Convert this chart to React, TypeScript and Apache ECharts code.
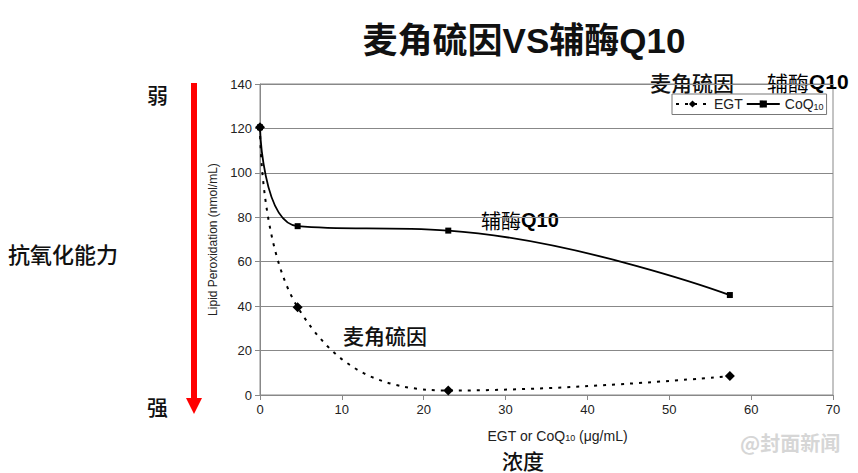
import React, { useEffect, useRef } from "react";
import * as echarts from "echarts";

const egtData: [number, number][] = [
  [0, 120.5],
  [4.6, 39.5],
  [23, 2],
  [57.4, 8.5],
];
const coqData: [number, number][] = [
  [0, 120.5],
  [4.6, 76],
  [23, 74],
  [57.4, 45],
];
const seriesNames = ["EGT", "CoQ10"];
const titleText = "麦角硫因VS辅酶Q10";
const xAxisName = "EGT or CoQ{s|10} (μg/mL)";
const yAxisName = "Lipid Peroxidation (nmol/mL)";

const latin = "Liberation Sans, Arial, sans-serif";
const cjk = "Noto Sans CJK SC, sans-serif";
const mixed = "Liberation Sans, Noto Sans CJK SC, sans-serif";

const richLabel = (size: number) => ({
  c: { fontFamily: cjk, fontSize: size, fontWeight: "normal", color: "#111" },
  q: { fontFamily: latin, fontSize: size, fontWeight: "bold", color: "#111" },
});

export default function App() {
  const ref = useRef<HTMLDivElement>(null);
  useEffect(() => {
    document.body.style.margin = "0";
    const chart = echarts.init(ref.current!, null, { renderer: "svg" });
    chart.setOption({
      animation: false,
      backgroundColor: "#fff",
      title: {
        text: titleText,
        left: 519,
        top: 18,
        textAlign: "center",
        textStyle: { fontFamily: mixed, fontSize: 35, fontWeight: "bold", color: "#111" },
      },
      grid: {
        left: 260,
        right: 25,
        top: 84,
        bottom: 78,
        show: true,
        borderColor: "#888",
        borderWidth: 1,
      },
      legend: {
        data: seriesNames,
        left: 672,
        top: 94,
        orient: "horizontal",
        borderColor: "#777",
        borderWidth: 1,
        padding: [3, 3, 3, 3],
        itemGap: 3,
        itemWidth: 33,
        itemHeight: 9,
        backgroundColor: "#fff",
        formatter: (n: string) => (n === "CoQ10" ? "{n|CoQ}{s|10}" : "{n|" + n + "}"),
        textStyle: {
          fontFamily: latin,
          fontSize: 14,
          color: "#222",
          rich: {
            n: { fontSize: 14, fontFamily: latin, color: "#222" },
            s: { fontSize: 9, fontFamily: latin, color: "#222", padding: [6, 0, 0, 0] },
          },
        },
      },
      xAxis: {
        type: "value",
        min: 0,
        max: 70,
        interval: 10,
        name: xAxisName,
        nameLocation: "middle",
        nameGap: 34,
        nameTextStyle: {
          fontFamily: latin,
          fontSize: 14,
          lineHeight: 14,
          color: "#222",
          padding: [0, 0, 0, 22],
          rich: { s: { fontSize: 9, lineHeight: 14, fontFamily: latin, color: "#222", padding: [4, 0, 0, 0] } },
        },
        axisLine: { show: true, lineStyle: { color: "#888", width: 1 } },
        axisTick: { show: true, length: 5, lineStyle: { color: "#888" } },
        axisLabel: { fontFamily: latin, fontSize: 13, color: "#222", margin: 8 },
        splitLine: { show: false },
      },
      yAxis: {
        type: "value",
        min: 0,
        max: 140,
        interval: 20,
        name: yAxisName,
        nameLocation: "middle",
        nameGap: 40,
        nameTextStyle: { fontFamily: latin, fontSize: 12, color: "#222" },
        axisLine: { show: true, lineStyle: { color: "#888", width: 1 } },
        axisTick: { show: true, length: 5, lineStyle: { color: "#888" } },
        axisLabel: { fontFamily: latin, fontSize: 13, color: "#222", margin: 8 },
        splitLine: { show: true, lineStyle: { color: "#888", width: 1 } },
      },
      series: [
        {
          name: "EGT",
          type: "line",
          data: egtData,
          smooth: 0.45,
          symbol: "diamond",
          symbolSize: 10,
          itemStyle: { color: "#000" },
          lineStyle: { color: "#000", width: 2, type: [3, 6] },
          z: 3,
        },
        {
          name: "CoQ10",
          type: "line",
          data: coqData,
          smooth: 0.45,
          symbol: "rect",
          symbolSize: 6,
          itemStyle: { color: "#000" },
          lineStyle: { color: "#000", width: 1.8, type: "solid" },
          z: 4,
        },
      ],
      graphic: [
        {
          type: "line",
          shape: { x1: 194, y1: 83, x2: 194, y2: 400 },
          style: { stroke: "#ff0000", lineWidth: 6 },
        },
        {
          type: "polygon",
          shape: { points: [[186, 398], [202, 398], [194, 414]] },
          style: { fill: "#ff0000" },
        },
        {
          type: "text",
          left: 147,
          top: 83,
          style: { text: "弱", font: `500 21px ${cjk}`, fill: "#111" },
        },
        {
          type: "text",
          left: 147,
          top: 395,
          style: { text: "强", font: `500 21px ${cjk}`, fill: "#111" },
        },
        {
          type: "text",
          left: 8,
          top: 242,
          style: { text: "抗氧化能力", font: `500 22px ${cjk}`, fill: "#111" },
        },
        {
          type: "text",
          left: 650,
          top: 71,
          style: { text: "麦角硫因", font: `500 21px ${cjk}`, fill: "#111" },
        },
        {
          type: "text",
          left: 767,
          top: 71,
          style: { text: "{c|辅酶}{q|Q10}", rich: richLabel(21) },
        },
        {
          type: "text",
          left: 481,
          top: 210,
          style: { text: "{c|辅酶}{q|Q10}", rich: richLabel(20) },
        },
        {
          type: "text",
          left: 343,
          top: 324,
          style: { text: "麦角硫因", font: `500 21px ${cjk}`, fill: "#111" },
        },
        {
          type: "text",
          left: 502,
          top: 449,
          style: { text: "浓度", font: `500 21px ${cjk}`, fill: "#111" },
        },
        {
          type: "text",
          left: 740,
          top: 432,
          style: { text: "@封面新闻", font: `bold 20px ${cjk}`, fill: "#d6d6d6" },
        },
      ],
    });
    return () => chart.dispose();
  }, []);
  return <div ref={ref} style={{ width: 858, height: 473, position: "absolute", left: 0, top: 0 }} />;
}
